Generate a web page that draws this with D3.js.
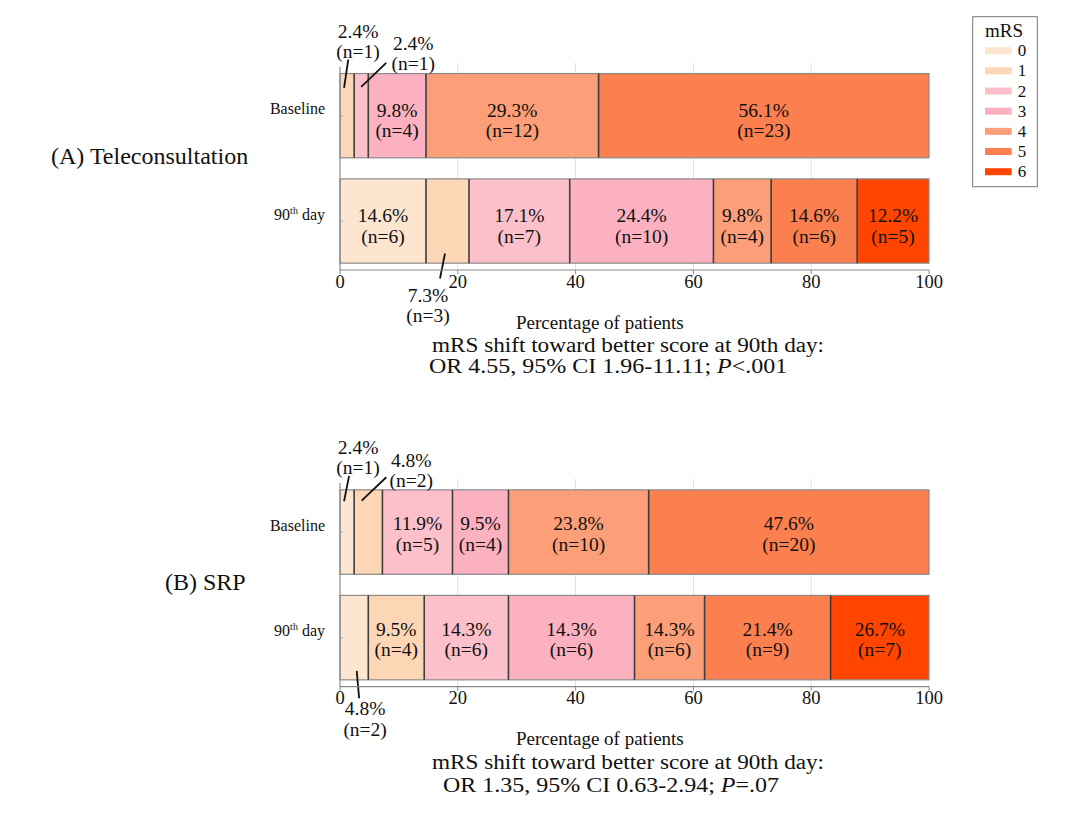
<!DOCTYPE html>
<html>
<head>
<meta charset="utf-8">
<script src="https://cdn.jsdelivr.net/npm/d3@7"></script>
<style>
  html, body { margin: 0; padding: 0; background: #fff; }
  svg { display: block; font-family: "Liberation Serif", "Times New Roman", Times, serif; }
</style>
</head>
<body>
<svg id="chart" width="1080" height="813"></svg>
<script>
// ---------------- data ----------------
const categories = ["0", "1", "2", "3", "4", "5", "6"];
const rowNames = ["Baseline", "90th day"];
const xTicks = [0, 20, 40, 60, 80, 100];

// (A) Teleconsultation — drawn segment widths (%)
const teleBaseline = [0, 2.4, 2.4, 9.8, 29.3, 56.1, 0];
const tele90 = [14.6, 7.3, 17.1, 24.4, 9.8, 14.6, 12.2];
const teleBaselinePct = ["", "2.4%", "2.4%", "9.8%", "29.3%", "56.1%", ""];
const tele90Pct = ["14.6%", "7.3%", "17.1%", "24.4%", "9.8%", "14.6%", "12.2%"];
const teleBaselineN = [0, 1, 1, 4, 12, 23, 0];
const tele90N = [6, 3, 7, 10, 4, 6, 5];

// (B) SRP — drawn segment widths (%) and printed labels
const srpBaseline = [2.4, 4.8, 11.9, 9.5, 23.8, 47.6, 0];
const srp90 = [4.8, 9.5, 14.3, 21.4, 11.9, 21.4, 16.7];
const srpBaselinePct = ["2.4%", "4.8%", "11.9%", "9.5%", "23.8%", "47.6%", ""];
const srp90Pct = ["4.8%", "9.5%", "14.3%", "14.3%", "14.3%", "21.4%", "26.7%"];
const srpBaselineN = [1, 2, 5, 4, 10, 20, 0];
const srp90N = [2, 4, 6, 6, 6, 9, 7];

const panelTitles = ["(A) Teleconsultation", "(B) SRP"];
const xAxisTitle = "Percentage of patients";
const statLine1 = ["mRS shift toward better score at 90th day:", "mRS shift toward better score at 90th day:"];
const statLine2a = ["OR 4.55, 95% CI 1.96-11.11; ", "OR 1.35, 95% CI 0.63-2.94; "];
const statLine2b = ["<.001", "=.07"];

const colors = ["#fde5d0", "#fdd6b5", "#fcc0cb", "#fbb1bf", "#fc9f78", "#fc7f50", "#ff4500"];

// ---------------- layout ----------------
const panels = [
  { top: 66.7, bottom: 270, title: panelTitles[0], titleX: 51, titleY: 164,
    rows: [ {v: teleBaseline, pct: teleBaselinePct, n: teleBaselineN},
            {v: tele90, pct: tele90Pct, n: tele90N} ],
    lab: [1, 21.5], tickDy: 18, axY: 328.5, s1: [432, 351.5], s2: [429, 372.5] },
  { top: 483, bottom: 686.7, title: panelTitles[1], titleX: 165, titleY: 590,
    rows: [ {v: srpBaseline, pct: srpBaselinePct, n: srpBaselineN},
            {v: srp90, pct: srp90Pct, n: srp90N} ],
    lab: [-2, 18.5], tickDy: 17, axY: 745, s1: [432, 769], s2: [443, 791.5] }
];
// callouts for narrow segments: offsets relative to segment centre / bar edge
const callouts = [
  { p: 0, r: 0, k: 1, edge: "top", dx: 11, ty: [-36, -16], l: [1.2, -14, -3, 14.4] },
  { p: 0, r: 0, k: 2, edge: "top", dx: 52, ty: [-24, -4], l: [25, -10.6, 0, 13.4] },
  { p: 0, r: 1, k: 1, edge: "bottom", dx: -19.5, ty: [39, 59], l: [-2.5, -9.7, -7.5, 15.3] },
  { p: 1, r: 0, k: 0, edge: "top", dx: 11, ty: [-36, -16], l: [2, -14, -3, 11.4] },
  { p: 1, r: 0, k: 1, edge: "top", dx: 43, ty: [-23, -3], l: [18, -12.6, -6.6, 10.7] },
  { p: 1, r: 1, k: 0, edge: "bottom", dx: 11, ty: [35.5, 56.5], l: [2.6, -9, 5, 18.4] }
];

const svg = d3.select("#chart");
const x = d3.scaleLinear().domain([0, 100]).range([340, 929]);
const color = d3.scaleOrdinal().domain(categories).range(colors);

function T(g, px, py, str, size, anchor) {
  return g.append("text")
    .attr("x", px).attr("y", py)
    .attr("text-anchor", anchor || "middle")
    .attr("font-size", size)
    .attr("fill", "#111")
    .text(str);
}

panels.forEach((P, pi) => {
  const g = svg.append("g");
  const y = d3.scaleBand().domain(rowNames).range([P.top, P.bottom])
    .paddingInner(0.2).paddingOuter(0.065);

  // grid
  g.selectAll("line.grid").data(xTicks.slice(1, -1)).enter().append("line")
    .attr("x1", d => x(d)).attr("x2", d => x(d))
    .attr("y1", P.top - 4).attr("y2", P.bottom)
    .attr("stroke", "#e2e2e2").attr("stroke-width", 1);

  P.rows.forEach((R, ri) => {
    const rowKey = rowNames[ri];
    const by = y(rowKey), bh = y.bandwidth();
    let cum = 0;
    const segs = R.v.map((v, k) => { const s = { k, x0: cum, x1: cum + v, v }; cum += v; return s; });
    const visible = segs.filter(s => s.v > 0);

    g.selectAll(null).data(visible).enter().append("rect")
      .attr("x", s => x(s.x0)).attr("width", s => x(s.x1) - x(s.x0))
      .attr("y", by).attr("height", bh)
      .attr("fill", s => color(categories[s.k]));

    // outer border
    g.append("rect").attr("x", x(0)).attr("y", by)
      .attr("width", x(100) - x(0)).attr("height", bh)
      .attr("fill", "none").attr("stroke", "#8a8a8a").attr("stroke-width", 1.2);

    // separators
    g.selectAll(null).data(visible.slice(1)).enter().append("line")
      .attr("x1", s => x(s.x0)).attr("x2", s => x(s.x0))
      .attr("y1", by).attr("y2", by + bh)
      .attr("stroke", "#3d3d3d").attr("stroke-width", 1.6);

    // labels
    visible.forEach(s => {
      const co = callouts.find(c => c.p === pi && c.r === ri && c.k === s.k);
      const cx = x((s.x0 + s.x1) / 2);
      const txt1 = R.pct[s.k], txt2 = `(n=${R.n[s.k]})`;
      if (co) {
        const edgeY = co.edge === "top" ? by : by + bh;
        T(g, cx + co.dx, edgeY + co.ty[0], txt1, 19.5);
        T(g, cx + co.dx, edgeY + co.ty[1], txt2, 19.5);
        g.append("line")
          .attr("x1", cx + co.l[0]).attr("y1", edgeY + co.l[1])
          .attr("x2", cx + co.l[2]).attr("y2", edgeY + co.l[3])
          .attr("stroke", "#111").attr("stroke-width", 1.8);
      } else {
        const cy = by + bh / 2;
        T(g, cx, cy + P.lab[0], txt1, 19.5);
        T(g, cx, cy + P.lab[1], txt2, 19.5);
      }
    });

    // y label
    const ly = by + bh / 2 - 1.5;
    if (ri === 0) {
      T(g, 325, ly, rowKey, 16, "end");
    } else {
      const t = g.append("text")
        .attr("x", 325).attr("y", ly)
        .attr("text-anchor", "end").attr("font-size", 16).attr("fill", "#111");
      t.append("tspan").text("90");
      t.append("tspan").attr("font-size", 10).attr("dy", -6).text("th");
      t.append("tspan").attr("dy", 6).text(" day");
    }
  });

  // y tick marks
  g.selectAll(null).data(rowNames).enter().append("line")
    .attr("x1", x(0)).attr("x2", x(0) + 3)
    .attr("y1", d => y(d) + y.bandwidth() / 2).attr("y2", d => y(d) + y.bandwidth() / 2)
    .attr("stroke", "#aaa");

  // axes lines
  g.append("line").attr("x1", x(0)).attr("x2", x(0)).attr("y1", P.top).attr("y2", P.bottom)
    .attr("stroke", "#8a8a8a").attr("stroke-width", 1.2);
  g.append("line").attr("x1", x(0)).attr("x2", x(100)).attr("y1", P.bottom).attr("y2", P.bottom)
    .attr("stroke", "#8a8a8a").attr("stroke-width", 1.2);
  g.selectAll(null).data(xTicks).enter().append("line")
    .attr("x1", d => x(d)).attr("x2", d => x(d)).attr("y1", P.bottom).attr("y2", P.bottom + 4)
    .attr("stroke", "#8a8a8a");
  xTicks.forEach(t => T(g, x(t), P.bottom + P.tickDy, String(t), 18.5));

  // panel title
  T(g, P.titleX, P.titleY, P.title, 24, "start");

  // axis title + stats (reference glyphs are slightly wider than tall)
  T(g, 516, P.axY, xAxisTitle, 19, "start");
  g.append("text")
    .attr("transform", `translate(${P.s1[0]},${P.s1[1]}) scale(1.16,1)`)
    .attr("font-size", 20).attr("fill", "#111").text(statLine1[pi]);
  const t2 = g.append("text")
    .attr("transform", `translate(${P.s2[0]},${P.s2[1]}) scale(1.2,1)`)
    .attr("font-size", 20).attr("fill", "#111");
  t2.append("tspan").text(statLine2a[pi]);
  t2.append("tspan").attr("font-style", "italic").text("P");
  t2.append("tspan").text(statLine2b[pi]);
});

// ---------------- legend ----------------
const lg = svg.append("g");
lg.append("rect").attr("x", 972.7).attr("y", 16.7).attr("width", 64.6).attr("height", 170)
  .attr("fill", "#fff").attr("stroke", "#777").attr("stroke-width", 1);
T(lg, 1004, 36.5, "mRS", 19);
const ly = d3.scalePoint().domain(categories).range([50.7, 171.7]);
lg.selectAll(null).data(categories).enter().append("rect")
  .attr("x", 985).attr("width", 26.7)
  .attr("y", d => ly(d) - 3.5).attr("height", 7)
  .attr("fill", d => color(d));
categories.forEach(c => T(lg, 1022, ly(c) + 5.5, c, 17));
</script>
</body>
</html>
